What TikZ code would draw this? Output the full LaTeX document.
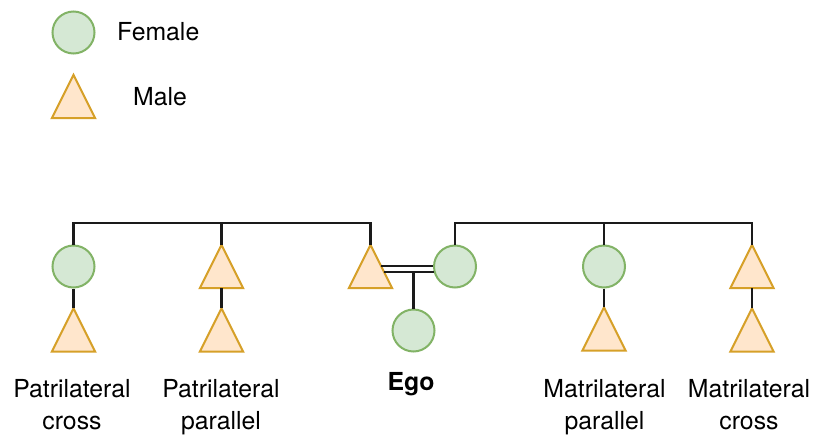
\documentclass[tikz,border=0pt]{standalone}
\usepackage{fontspec}
\setmainfont{TeX Gyre Heros}
\usetikzlibrary{calc}
\definecolor{femfill}{HTML}{D5E8D4}
\definecolor{femline}{HTML}{82B366}
\definecolor{malefill}{HTML}{FFE6CC}
\definecolor{maleline}{HTML}{D6A028}
\definecolor{kinline}{HTML}{1A1A1A}
\tikzset{
  female/.style={circle, draw=femline, fill=femfill, line width=2pt,
    minimum size=42pt, inner sep=0pt},
  malebox/.style={minimum width=43pt, minimum height=43pt, inner sep=0pt},
  maletri/.style={draw=maleline, fill=malefill, line width=2pt, line join=miter},
  kin/.style={draw=kinline, line width=2.3pt},
  lbl/.style={font=\fontsize{24.8}{32}\selectfont, align=center, inner sep=0pt},
}
\newcommand{\maleshape}[1]{\path[maletri] (#1.north) -- (#1.south east) -- (#1.south west) -- cycle;}
\begin{document}
\begin{tikzpicture}[x=1pt, y=-1pt]
\useasboundingbox (0,0) rectangle (817,434);

% legend
\node[female] (lf) at (73.5,32.5) {};
\node[malebox] (lm) at (73.5,96.5) {};
\maleshape{lm}
\node[lbl, anchor=base west] (lft) at (117,40) {Female};
\node[lbl, anchor=base west] (lmt) at (133,105) {Male};

% father's side: siblings and their children
\node[female]  (a)  at (73.5,266.5) {};
\node[malebox] (ac) at (73.5,330) {};
\node[malebox] (b)  at (221.5,266.5) {};
\node[malebox] (bc) at (221.5,330) {};
\node[malebox] (f)  at (370.5,266.5) {};
% mother's side
\node[female]  (m)  at (455,266.5) {};
\node[female]  (d)  at (604,266.5) {};
\node[malebox] (dc) at (604,329) {};
\node[malebox] (e)  at (752,266.5) {};
\node[malebox] (ec) at (752,330) {};
% ego
\node[female]  (ego) at (413.5,330.5) {};

\foreach \n in {ac,b,bc,f,dc,e,ec} {\maleshape{\n}}

\coordinate (bar) at (0,223);
\draw[kin] (a.north) |- (bar -| f.north) -- (f.north);
\draw[kin] (b.north) -- (b.north |- bar);
\draw[kin] (m.north) |- (bar -| e.north) -- (e.north);
\draw[kin] (d.north) -- (d.north |- bar);

\draw[kin] (a.south) -- (ac.north);
\draw[kin] (b.south) -- (bc.north);
\draw[kin] (d.south) -- (dc.north);
\draw[kin] (e.south) -- (ec.north);

% marriage and descent
\coordinate (mu) at ($(f.north)!0.49!(f.south east)$);
\coordinate (ml) at ($(f.north)!0.63!(f.south east)$);
\draw[kin] (mu) -- (mu -| m.west);
\draw[kin] (ml) -- ($(ml -| m.west)+(1,0)$);
\draw[kin] (ego.north |- ml) -- (ego.north);

% labels (anchored on the baseline of the last line)
\node[lbl, anchor=base] (l1) at (72,429) {Patrilateral\\cross};
\node[lbl, anchor=base] (l2) at (221,429) {Patrilateral\\parallel};
\node[lbl, anchor=base] (l3) at (411,390) {\bfseries Ego};
\node[lbl, anchor=base] (l4) at (604.5,429) {Matrilateral\\parallel};
\node[lbl, anchor=base] (l5) at (749,429) {Matrilateral\\cross};
\end{tikzpicture}
\end{document}
